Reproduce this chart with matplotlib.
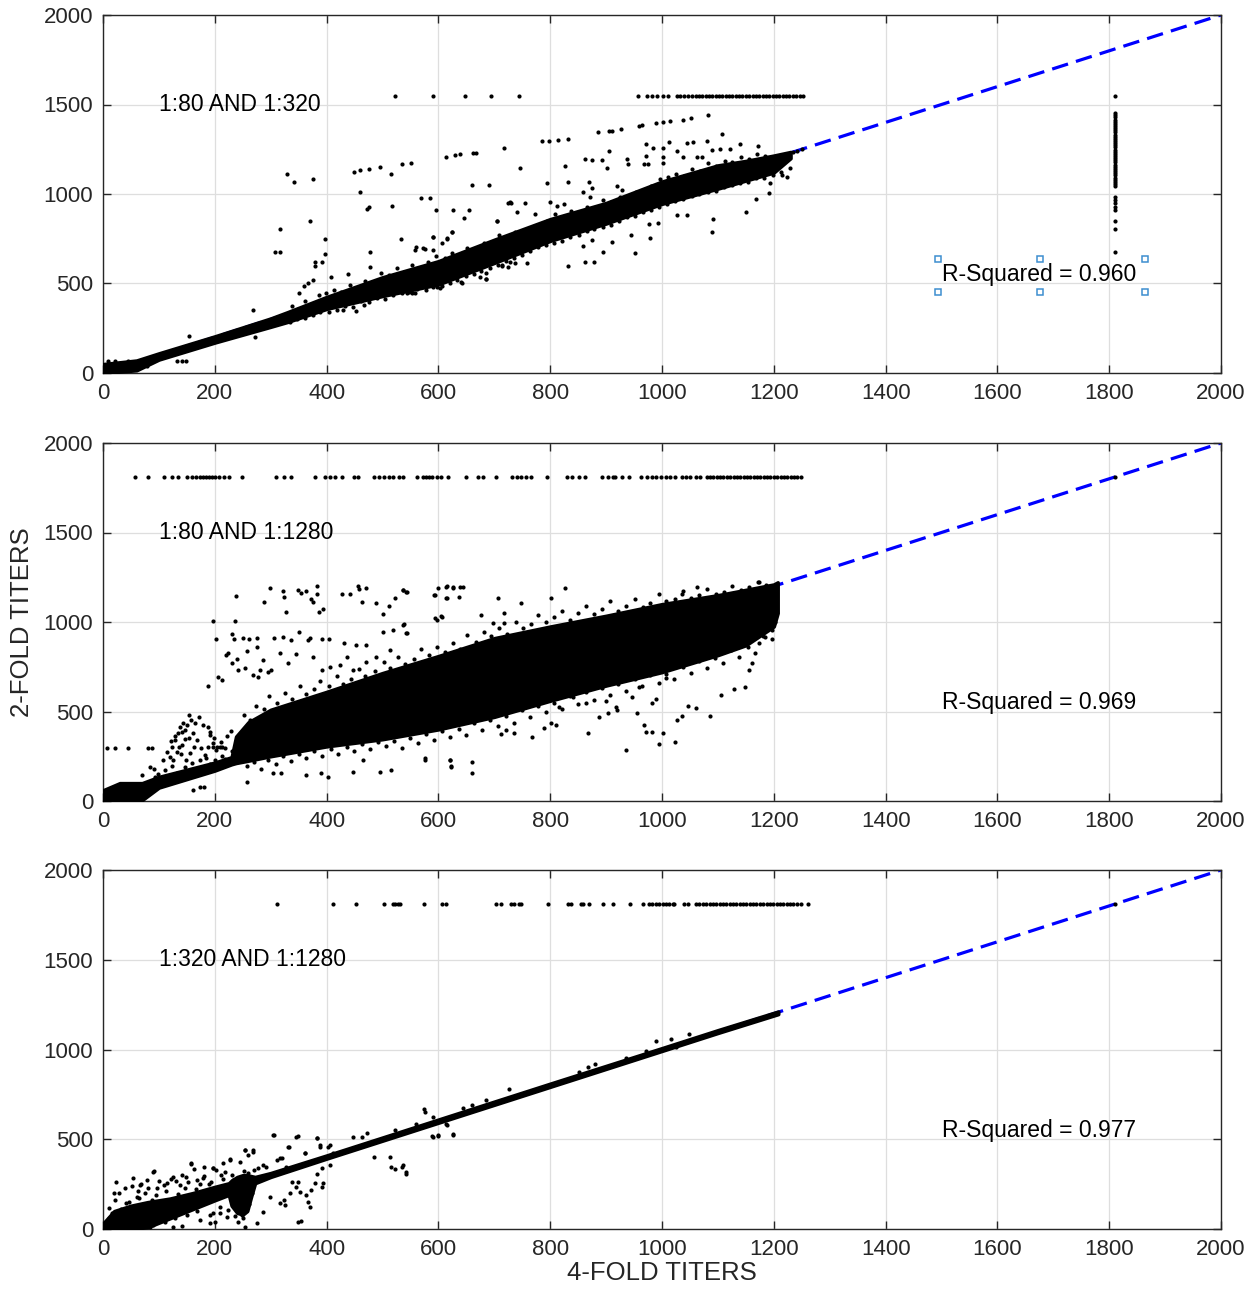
import matplotlib.pyplot as plt
import numpy as np

plt.rcParams['font.family'] = ['Liberation Sans', 'DejaVu Sans']

INK = '#262626'

# ---------- 1:80 vs 1:320 ----------
band1X = [0, 60, 100, 200, 300, 330, 400, 500, 600, 700, 800, 900, 1000, 1100, 1150, 1200, 1230]
band1Lo = [0, 15, 75, 170, 258, 285, 358, 430, 495, 615, 738, 835, 945, 1030, 1075, 1120, 1200]
band1Hi = [50, 70, 110, 205, 305, 340, 425, 535, 625, 745, 860, 950, 1070, 1160, 1185, 1215, 1235]

pts1 = [(330, 1110), (342, 1067), (376, 1084), (449, 1125), (459, 1132), (475, 1140), (496, 1149), (515, 1110),
        (534, 1166), (551, 1173), (613, 1205), (630, 1216), (639, 1221), (662, 1231), (668, 1231), (717, 1255),
        (661, 1050), (691, 1050), (460, 1011), (472, 916), (476, 925), (517, 933), (568, 978), (585, 978),
        (596, 912), (627, 912), (655, 912), (645, 864), (704, 849), (728, 955), (370, 849), (317, 806),
        (308, 678), (316, 678), (398, 750), (398, 667), (379, 622), (379, 598), (391, 618), (360, 488),
        (367, 501), (375, 520), (351, 445), (408, 538), (439, 555), (478, 676), (478, 594), (533, 750),
        (560, 702), (576, 694), (591, 687), (590, 758), (615, 752), (625, 790), (269, 352), (272, 203),
        (153, 207), (132, 69), (141, 69), (148, 69), (78, 41), (9, 69), (21, 69), (45, 69), (430, 352),
        (452, 348), (467, 378), (552, 445), (558, 445), (603, 473), (642, 501), (674, 538), (686, 523),
        (713, 599), (725, 594), (737, 612), (886, 1348), (906, 1352), (910, 1354), (926, 1361), (958, 1380),
        (965, 1383), (989, 1399), (1001, 1402), (1014, 1408), (1038, 1415), (1051, 1425), (1083, 1441),
        (1108, 1335), (786, 1296), (798, 1296), (814, 1302), (832, 1309), (746, 1147), (827, 1156),
        (862, 1196), (874, 1190), (892, 1190), (901, 1147), (937, 1198), (940, 1166), (905, 1240),
        (972, 1279), (984, 1255), (1001, 1255), (1013, 1292), (1026, 1242), (1044, 1283), (1056, 1292),
        (1080, 1296), (1089, 1246), (1104, 1249), (1122, 1249), (1140, 1279), (1172, 1270), (972, 1214),
        (1002, 1209), (968, 1166), (975, 1166), (1002, 1171), (1038, 1209), (1062, 1209), (1071, 1209),
        (794, 1064), (832, 1067), (869, 1067), (875, 1035), (704, 847), (725, 951), (730, 951), (755, 951),
        (740, 901), (773, 888), (800, 957), (812, 935), (824, 944), (859, 1013), (871, 985), (919, 1043),
        (928, 1022), (832, 598), (862, 622), (879, 622), (952, 670), (895, 675), (910, 734), (874, 743),
        (859, 707), (979, 752), (944, 771), (993, 836), (977, 832), (1044, 881), (1026, 881), (1089, 790),
        (1091, 858), (1151, 901), (1168, 970), (1192, 1007), (1223, 1093), (1214, 1106), (1205, 1143),
        (1229, 1143), (1193, 1059), (728, 622), (758, 612), (713, 603), (686, 556), (686, 525), (640, 510),
        (597, 483), (543, 445), (624, 790), (615, 749), (606, 729), (591, 762), (558, 687), (573, 696),
        (1195, 1195), (1205, 1203), (1212, 1212), (1220, 1218), (1228, 1226), (1235, 1235), (1242, 1240),
        (1250, 1250),
        # loose points along the upper and lower edge of the main cloud
        (338, 372), (349, 355), (362, 401), (374, 386), (387, 438), (399, 447), (413, 462), (426, 452),
        (441, 491), (455, 472), (468, 516), (482, 498), (497, 561), (511, 547), (526, 584), (539, 562),
        (553, 601), (567, 587), (582, 618), (596, 651), (611, 641), (624, 672), (639, 655), (652, 701),
        (667, 688), (681, 725), (694, 712), (709, 771), (723, 762), (737, 788), (752, 779), (766, 811),
        (781, 822), (795, 851), (809, 889), (823, 872), (838, 905), (852, 891), (866, 928), (881, 915),
        (895, 967), (909, 958), (924, 985), (938, 981), (953, 1011), (967, 1003), (981, 1047), (996, 1086),
        (1010, 1093), (1025, 1112), (1039, 1101), (1054, 1138), (1068, 1129), (1083, 1171), (1097, 1158),
        (1112, 1186), (1126, 1176), (1141, 1205), (1155, 1196), (1170, 1222), (1184, 1211),
        (334, 283), (347, 301), (361, 309), (376, 322), (389, 339), (404, 341), (418, 352), (433, 377),
        (447, 371), (461, 404), (476, 398), (490, 418), (505, 412), (519, 437), (534, 449), (548, 452),
        (562, 468), (577, 463), (591, 478), (606, 486), (620, 505), (634, 521), (649, 541), (663, 553),
        (677, 571), (692, 589), (706, 603), (721, 628), (735, 641), (750, 662), (764, 681), (778, 702),
        (793, 716), (807, 724), (822, 739), (836, 762), (851, 771), (865, 794), (879, 802), (894, 818),
        (908, 826), (923, 851), (937, 869), (952, 878), (966, 899), (981, 911), (995, 928), (1009, 945),
        (1024, 962), (1038, 971), (1053, 989), (1067, 998), (1082, 1009), (1096, 1018), (1111, 1040),
        (1125, 1048), (1140, 1061), (1154, 1066), (1169, 1088), (1183, 1091), (1198, 1108), (1212, 1125)]

row1Y = 1550
row1X = [522, 590, 648, 694, 744, 957, 973, 982, 991, 1002, 1011, 1027, 1033, 1040, 1047, 1054,
         1060, 1066, 1072, 1078, 1084, 1090, 1096, 1102, 1108, 1114, 1120, 1126, 1132, 1138, 1144, 1150,
         1156, 1162, 1168, 1174, 1180, 1186, 1192, 1198, 1204, 1210, 1216, 1222, 1228, 1234, 1240, 1246, 1252]

col1X = 1810
col1Y = [1547, 1452, 1440, 1428, 1416, 1404, 1392, 1380, 1368, 1356, 1344, 1332, 1320, 1308, 1296, 1284,
         1272, 1260, 1248, 1236, 1224, 1212, 1200, 1188, 1176, 1164, 1152, 1140, 1128, 1116, 1104, 1092,
         1080, 1068, 1056, 1044, 983, 965, 948, 930, 911, 849, 804, 676]

# ---------- 1:80 vs 1:1280 ----------
band2X = [0, 30, 70, 100, 200, 230, 238, 260, 300, 400, 500, 600, 700, 800, 900, 1000, 1100, 1150, 1200, 1207]
band2Lo = [0, 0, 5, 75, 170, 205, 212, 225, 250, 305, 345, 400, 470, 560, 645, 720, 815, 870, 975, 1050]
band2Hi = [60, 100, 100, 135, 215, 245, 360, 440, 510, 610, 715, 810, 910, 975, 1035, 1100, 1150, 1180, 1210, 1222]

pts2 = [(153, 480), (144, 434), (137, 415), (147, 397), (135, 378), (129, 341), (153, 350), (141, 313),
        (123, 304), (114, 276), (132, 276), (120, 248), (108, 229), (165, 438), (156, 266), (126, 229),
        (84, 192), (69, 145), (93, 136), (102, 108), (114, 117), (132, 155), (147, 192), (174, 229),
        (188, 415), (191, 369), (197, 322), (203, 285), (185, 239), (159, 214), (171, 155), (181, 80),
        (200, 229), (209, 304), (218, 294), (299, 1188), (238, 1147), (288, 1114), (322, 1173), (324, 1138),
        (327, 1058), (348, 1179), (355, 1160), (364, 1175), (372, 1127), (376, 1114), (383, 1201),
        (382, 1155), (387, 1058), (394, 1071), (428, 1158), (442, 1155), (457, 1201), (458, 1186),
        (471, 1192), (463, 1114), (488, 1104), (500, 1043), (512, 1089), (522, 1132), (537, 1179),
        (543, 1168), (594, 1151), (600, 1192), (616, 1201), (627, 1192), (615, 1132), (597, 1011),
        (606, 1026), (197, 1007), (236, 1007), (203, 903), (230, 933), (235, 903), (251, 909), (262, 903),
        (276, 909), (306, 909), (322, 914), (337, 899), (351, 946), (367, 899), (370, 909), (392, 903),
        (405, 903), (431, 884), (452, 871), (471, 871), (501, 946), (518, 955), (537, 983), (543, 936),
        (220, 816), (224, 825), (240, 791), (257, 840), (275, 858), (287, 788), (301, 733), (317, 825),
        (331, 769), (346, 821), (376, 806), (391, 733), (406, 751), (424, 760), (436, 806), (448, 733),
        (471, 779), (489, 806), (513, 843), (206, 694), (212, 676), (230, 769), (242, 733), (254, 742),
        (269, 705), (278, 694), (296, 721), (281, 733), (188, 640), (7, 296), (21, 296), (45, 296),
        (80, 296), (87, 296), (188, 300), (196, 300), (204, 300), (213, 300), (257, 108), (304, 155),
        (319, 155), (364, 145), (390, 155), (402, 136), (448, 164), (495, 164), (516, 173), (576, 229),
        (621, 229), (623, 192), (465, 229), (173, 80), (161, 61), (576, 238), (620, 229), (623, 196),
        (661, 220), (661, 159), (712, 374), (721, 397), (736, 382), (768, 360), (789, 406), (801, 434),
        (810, 425), (867, 382), (935, 285), (887, 471), (904, 494), (920, 509), (956, 490), (968, 425),
        (971, 387), (983, 387), (1001, 382), (995, 319), (1023, 332), (1027, 453), (1036, 475), (1047, 531),
        (1060, 518), (1085, 475), (1105, 592), (1128, 624), (1149, 639), (1155, 732), (1161, 769),
        (1173, 881), (1185, 918), (1197, 955), (1203, 1002), (1007, 686), (959, 639), (989, 568),
        (983, 545), (947, 583), (917, 527), (899, 561), (864, 546), (840, 583), (816, 527), (536, 1178),
        (542, 1169), (593, 1151), (614, 1197), (626, 1197), (638, 1194), (644, 1197), (614, 1132),
        (636, 1141), (706, 1132), (748, 1104), (802, 1132), (826, 1188), (717, 1053), (676, 1039),
        (697, 993), (718, 993), (594, 1025), (605, 1034), (538, 988), (542, 937), (1063, 1197),
        (1173, 1222), (1132, 1160), (1036, 1157),
        # loose points along the edges of the main cloud and in the left arm
        (252, 478), (263, 455), (274, 530), (288, 512), (297, 585), (311, 548), (326, 602), (338, 571),
        (352, 640), (364, 598), (377, 627), (389, 672), (404, 641), (418, 700), (429, 655), (443, 684),
        (458, 738), (469, 701), (487, 725), (503, 776), (514, 741), (528, 805), (541, 768), (556, 792),
        (569, 848), (583, 815), (598, 862), (611, 833), (626, 880), (639, 851), (652, 925), (667, 888),
        (681, 942), (694, 921), (709, 968), (722, 931), (738, 1002), (751, 968), (766, 989), (779, 1041),
        (793, 1001), (807, 1028), (822, 1062), (836, 1013), (849, 1050), (864, 1091), (878, 1047),
        (893, 1072), (907, 1118), (921, 1061), (936, 1089), (951, 1131), (966, 1085), (979, 1107),
        (994, 1154), (1008, 1117), (1023, 1128), (1037, 1171), (1052, 1135), (1067, 1150), (1081, 1186),
        (1096, 1158), (1111, 1170), (1126, 1201), (1141, 1180), (1156, 1197), (1171, 1225), (1186, 1208),
        (258, 196), (271, 218), (283, 178), (296, 231), (309, 205), (322, 251), (337, 226), (351, 262),
        (364, 238), (378, 281), (392, 249), (407, 291), (421, 264), (436, 302), (449, 277), (463, 318),
        (478, 289), (492, 330), (506, 306), (521, 336), (535, 295), (549, 352), (563, 322), (578, 375),
        (592, 341), (607, 392), (621, 360), (636, 401), (649, 368), (663, 438), (678, 399), (692, 452),
        (706, 421), (721, 476), (735, 438), (749, 511), (764, 472), (778, 533), (792, 498), (807, 549),
        (821, 512), (836, 584), (850, 541), (864, 610), (879, 566), (893, 631), (907, 594), (922, 652),
        (936, 612), (951, 679), (965, 640), (979, 706), (994, 662), (1008, 711), (1022, 681), (1037, 751),
        (1051, 716), (1066, 781), (1080, 744), (1095, 800), (1109, 772), (1124, 842), (1138, 806),
        (1153, 858), (1167, 828), (1181, 921), (1196, 904),
        (121, 333), (128, 362), (142, 386), (151, 423), (158, 452), (171, 468), (178, 427), (192, 384),
        (199, 352), (211, 327), (222, 362), (229, 391), (139, 262), (162, 303), (168, 341), (182, 258),
        (191, 204), (201, 183), (212, 252), (219, 233), (231, 281), (149, 231), (124, 198), (111, 172),
        (99, 153), (91, 176), (136, 302), (146, 347), (161, 381), (176, 298)]

row2Y = 1810
row2X = [58, 80, 109, 124, 135, 150, 160, 166, 173, 179, 184, 189, 195, 201, 207, 216, 225, 248, 310, 324,
         336, 380, 398, 406, 415, 427, 449, 457, 484, 494, 502, 511, 519, 529, 537, 561, 572, 578, 583, 589,
         597, 605, 617, 650, 671, 679, 703, 732, 740, 748, 757, 766, 795, 830, 839, 851, 863, 892, 904, 912,
         916, 929, 941, 962, 974, 982, 990, 998, 1007, 1015, 1023, 1035, 1043, 1050, 1060, 1068,
         1080, 1086, 1092, 1098, 1104, 1110, 1116, 1122, 1128, 1134, 1140, 1146, 1152, 1158, 1164, 1170,
         1176, 1182, 1188, 1194, 1200, 1206, 1212, 1218, 1224, 1230, 1236, 1242, 1248, 1810]

# ---------- 1:320 vs 1:1280 ----------
band3X = [0, 20, 50, 80, 120, 160, 200, 225, 230, 240, 250, 258, 265, 272, 300, 400, 600, 800, 1000, 1100, 1208]
band3Lo = [0, 0, 0, 10, 60, 110, 160, 190, 130, 90, 80, 100, 180, 255, 290, 392, 592, 792, 992, 1092, 1197]
band3Hi = [30, 100, 130, 150, 170, 200, 235, 255, 270, 290, 300, 300, 295, 290, 312, 410, 610, 810, 1008, 1108, 1212]

pts3 = [(10, 115), (19, 199), (24, 264), (39, 227), (54, 283), (66, 246), (78, 274), (90, 320), (96, 227),
        (42, 143), (60, 180), (72, 125), (87, 162), (114, 255), (126, 292), (138, 246), (152, 264),
        (158, 363), (173, 199), (179, 283), (197, 338), (203, 329), (209, 227), (227, 384), (233, 273),
        (245, 375), (254, 440), (269, 431), (260, 310), (278, 338), (287, 357), (292, 348), (304, 524),
        (316, 394), (328, 348), (331, 459), (346, 515), (361, 422), (382, 505), (388, 459), (403, 459),
        (412, 422), (19, 50), (30, 87), (45, 69), (66, 32), (90, 41), (114, 87), (138, 106), (161, 125),
        (185, 162), (209, 125), (233, 199), (257, 236), (30, 13), (54, 13), (84, 13), (126, 13), (173, 50),
        (197, 87), (306, 524), (348, 518), (383, 509), (576, 654), (615, 579), (522, 551), (472, 537),
        (463, 511), (448, 511), (388, 468), (406, 468), (361, 422), (332, 459), (320, 394), (311, 384),
        (269, 440), (254, 440), (260, 412), (227, 388), (215, 366), (197, 338), (181, 347), (157, 366),
        (92, 323), (484, 403), (513, 403), (516, 347), (522, 333), (534, 347), (542, 306), (394, 258),
        (391, 236), (379, 255), (372, 217), (364, 189), (370, 124), (367, 152), (349, 264), (346, 236),
        (352, 208), (338, 264), (335, 199), (326, 134), (323, 162), (317, 143), (299, 180), (287, 97),
        (275, 32), (251, 60), (254, 13), (224, 106), (221, 69), (209, 87), (200, 41), (191, 32), (191, 78),
        (349, 41), (355, 46), (382, 306), (391, 338), (406, 357), (591, 511), (600, 518), (627, 524),
        (575, 667), (590, 624), (614, 583), (589, 519), (599, 526), (626, 531), (560, 587), (644, 674),
        (661, 693), (685, 717), (726, 778), (852, 874), (867, 900), (881, 919), (936, 952), (971, 994),
        (989, 1050), (1016, 1059), (1025, 1013), (1049, 1087), (536, 359), (542, 315),
        # the crowded lower-left corner
        (5, 30), (11, 62), (16, 88), (27, 41), (33, 112), (46, 148), (57, 118), (64, 172), (76, 203),
        (86, 138), (94, 192), (107, 158), (113, 213), (127, 148), (134, 193), (146, 228), (154, 177),
        (167, 221), (173, 252), (186, 208), (194, 262), (206, 198), (214, 281), (226, 238), (21, 163),
        (29, 198), (51, 238), (62, 212), (68, 253), (81, 229), (101, 268), (109, 243), (121, 278),
        (131, 268), (141, 302), (149, 287), (162, 332), (168, 272), (181, 298), (189, 248), (61, 42),
        (79, 58), (102, 72), (118, 98), (141, 118), (158, 143), (182, 148), (198, 172), (111, 38),
        (129, 62), (151, 79), (168, 102), (89, 22), (141, 18), (241, 38), (249, 78), (236, 72), (244, 118),
        (261, 142), (266, 198), (231, 302), (252, 322), (271, 328), (219, 318), (211, 302)]

row3Y = 1810
row3X = [311, 412, 452, 503, 518, 522, 527, 531, 575, 607, 614, 703, 712, 730, 736, 745, 748, 796, 831, 837,
         855, 858, 870, 894, 912, 942, 966, 977, 983, 989, 995, 1001, 1007, 1013, 1019, 1022, 1040, 1046,
         1061, 1067, 1073, 1079, 1085, 1091, 1097, 1103, 1109, 1115, 1121, 1127, 1133, 1139, 1145, 1151,
         1157, 1163, 1169, 1175, 1181, 1187, 1193, 1199, 1205, 1211, 1217, 1223, 1229, 1235, 1241, 1249,
         1262, 1810]

panelNames = ['1:80 AND 1:320', '1:80 AND 1:1280', '1:320 AND 1:1280']
rSquared = [0.960, 0.969, 0.977]

# selection handles around the first R-squared label
handleX = [1494, 1676, 1864, 1494, 1676, 1864]
handleY = [637, 637, 637, 452, 452, 452]

DOT = 3.0


def drawPanel(ax, bandX, bandLo, bandHi, pts, rowX, rowY, name, r2):
    ax.plot([0, 2000], [0, 2000], color='#0000ff', lw=2.3, dashes=(5.2, 2.6), zorder=2)
    ax.fill_between(bandX, bandLo, bandHi, color='k', lw=2.5, edgecolor='k', joinstyle='round', zorder=3)
    pts = np.array(pts)
    ax.plot(pts[:, 0], pts[:, 1], 'o', color='k', markersize=DOT, mew=0, zorder=4)
    ax.plot(rowX, [rowY] * len(rowX), 'o', color='k', markersize=DOT, mew=0, zorder=4)
    ax.text(100, 1500, name, fontsize=16.5, color='k', va='center', ha='left', zorder=5)
    ax.text(1500, 550, 'R-Squared = %.3f' % r2, fontsize=16.5, color='k', va='center', ha='left', zorder=5)

    ax.set_xlim(0, 2000)
    ax.set_ylim(0, 2000)
    ax.set_xticks(range(0, 2001, 200))
    ax.set_yticks(range(0, 2001, 500))
    ax.grid(True, color='#dedede', lw=0.9)
    ax.set_axisbelow(True)
    ax.tick_params(direction='in', top=True, right=True, length=6, width=1, colors=INK,
                   labelsize=16, pad=7)
    for s in ax.spines.values():
        s.set_color(INK)
        s.set_linewidth(1)


fig = plt.figure(figsize=(12.6, 12.89), dpi=100)
left, width = 103 / 1260, 1118 / 1260
axTop = fig.add_axes([left, 1 - 373 / 1289, width, 358 / 1289])
axMid = fig.add_axes([left, 1 - 801 / 1289, width, 358 / 1289])
axBot = fig.add_axes([left, 1 - 1229 / 1289, width, 359 / 1289])

drawPanel(axTop, band1X, band1Lo, band1Hi, pts1, row1X, row1Y, panelNames[0], rSquared[0])
axTop.plot([col1X] * len(col1Y), col1Y, 'o', color='k', markersize=DOT, mew=0, zorder=4)
axTop.plot(handleX, handleY, 's', mfc='white', mec='#3d8ed0', mew=1.1, markersize=5, zorder=6)

drawPanel(axMid, band2X, band2Lo, band2Hi, pts2, row2X, row2Y, panelNames[1], rSquared[1])
drawPanel(axBot, band3X, band3Lo, band3Hi, pts3, row3X, row3Y, panelNames[2], rSquared[2])

axMid.set_ylabel('2-FOLD TITERS', fontsize=18.5, color=INK)
axMid.yaxis.set_label_coords(-0.062, 0.5)
axBot.set_xlabel('4-FOLD TITERS', fontsize=18.5, color=INK)
axBot.xaxis.set_label_coords(0.5, -0.09)

fig.savefig('out.png', dpi=100)
